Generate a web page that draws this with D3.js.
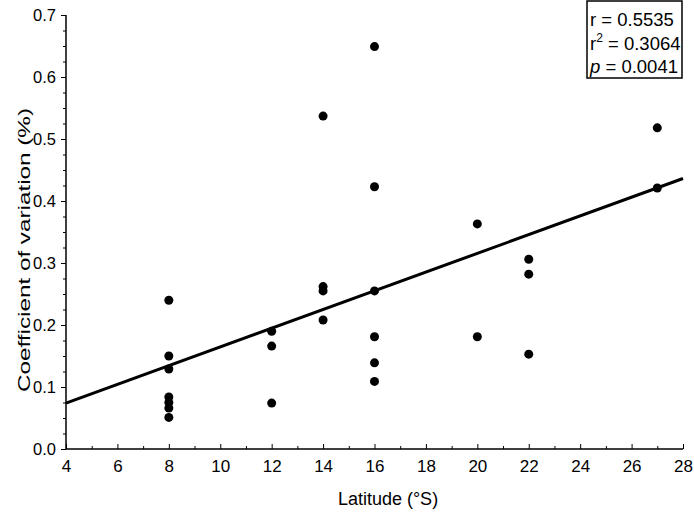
<!DOCTYPE html>
<html><head><meta charset="utf-8">
<script src="https://cdn.jsdelivr.net/npm/d3@7"></script>
<style>body{margin:0;background:#fff}svg{display:block;font-family:"Liberation Sans",Arial,sans-serif}</style>
</head><body><div id="chart"></div>
<script>
const latitude = [8,8,8,8,8,8,8, 12,12,12, 14,14,14,14, 16,16,16,16,16,16, 20,20, 22,22,22, 27,27];
const cv = [0.240,0.150,0.129,0.084,0.075,0.066,0.051, 0.190,0.166,0.074, 0.537,0.262,0.255,0.208, 0.649,0.423,0.255,0.181,0.139,0.109, 0.363,0.181, 0.306,0.282,0.153, 0.518,0.421];
const xTicks = [4,6,8,10,12,14,16,18,20,22,24,26,28];
const yTicks = [0.0,0.1,0.2,0.3,0.4,0.5,0.6,0.7];

const W=694,H=515;
const svg=d3.select("#chart").append("svg").attr("width",W).attr("height",H);
const x=d3.scaleLinear().domain([4,28]).range([66,683]);
const y=d3.scaleLinear().domain([0,0.7]).range([449,15]);

// axes
const gx=svg.append("g").attr("transform","translate(0,449)");
gx.call(d3.axisBottom(x).tickValues(d3.range(4,28.01,1)).tickSize(-5).tickFormat(""));
gx.selectAll(".tick line").attr("y2",d=>d%2===0?-5:-3);
gx.call(g=>g.select(".domain").remove());
gx.append("line").attr("x1",66).attr("x2",683).attr("stroke","#000").attr("stroke-width",1.5);
const gxl=svg.append("g").attr("transform","translate(0,449)");
gxl.call(d3.axisBottom(x).tickValues(xTicks).tickSize(0).tickPadding(11).tickFormat(d3.format("d")));
gxl.select(".domain").remove();
gxl.selectAll("text").attr("font-size",17).attr("font-family","Liberation Sans, Arial, sans-serif").attr("fill","#000");

const gy=svg.append("g").attr("transform","translate(66,0)");
gy.call(d3.axisLeft(y).tickValues(d3.range(0,0.7001,0.025)).tickSize(-4).tickFormat(""));
gy.selectAll(".tick line").attr("x2",(d)=>Math.abs(d*10-Math.round(d*10))<1e-6?-5:-3);
gy.call(g=>g.select(".domain").remove());
gy.append("line").attr("y1",15).attr("y2",449).attr("stroke","#000").attr("stroke-width",1.5);
const gyl=svg.append("g").attr("transform","translate(66,0)");
gyl.call(d3.axisLeft(y).tickValues(yTicks).tickSize(0).tickPadding(10).tickFormat(d3.format(".1f")));
gyl.select(".domain").remove();
gyl.selectAll("text").attr("font-size",16.5).attr("font-family","Liberation Sans, Arial, sans-serif").attr("fill","#000");

// titles
svg.append("text").attr("x",388).attr("y",505).attr("text-anchor","middle").attr("font-size",18).text("Latitude (°S)");
svg.append("text").attr("transform","translate(30,250) rotate(-90)").attr("text-anchor","middle").attr("font-size",17)
  .attr("textLength",284).attr("lengthAdjust","spacingAndGlyphs").text("Coefficient of variation (%)");

// regression line
const mx=d3.mean(latitude), my=d3.mean(cv);
let sxy=0,sxx=0; latitude.forEach((v,i)=>{sxy+=(v-mx)*(cv[i]-my);sxx+=(v-mx)*(v-mx);});
const slope=sxy/sxx, icpt=my-slope*mx;
svg.append("line").attr("x1",x(4)).attr("y1",y(icpt+slope*4)).attr("x2",x(28)).attr("y2",y(icpt+slope*28))
  .attr("stroke","#000").attr("stroke-width",3);

// points
svg.append("g").selectAll("circle").data(latitude.map((v,i)=>[v,cv[i]])).join("circle")
  .attr("cx",d=>x(d[0])).attr("cy",d=>y(d[1])).attr("r",4.5).attr("fill","#000");

// stats box
svg.append("rect").attr("x",587).attr("y",1).attr("width",95).attr("height",77).attr("fill","#fff").attr("stroke","#000").attr("stroke-width",1.5);
const tb=svg.append("g").attr("font-size",18.5);
tb.append("text").attr("x",590).attr("y",26).text("r = 0.5535");
const t2=tb.append("text").attr("x",590).attr("y",50);
t2.append("tspan").text("r");
t2.append("tspan").attr("font-size",12).attr("dy",-8).text("2");
t2.append("tspan").attr("dy",8).text(" = 0.3064");
const t3=tb.append("text").attr("x",590).attr("y",73);
t3.append("tspan").attr("font-style","italic").text("p");
t3.append("tspan").text(" = 0.0041");
</script></body></html>
